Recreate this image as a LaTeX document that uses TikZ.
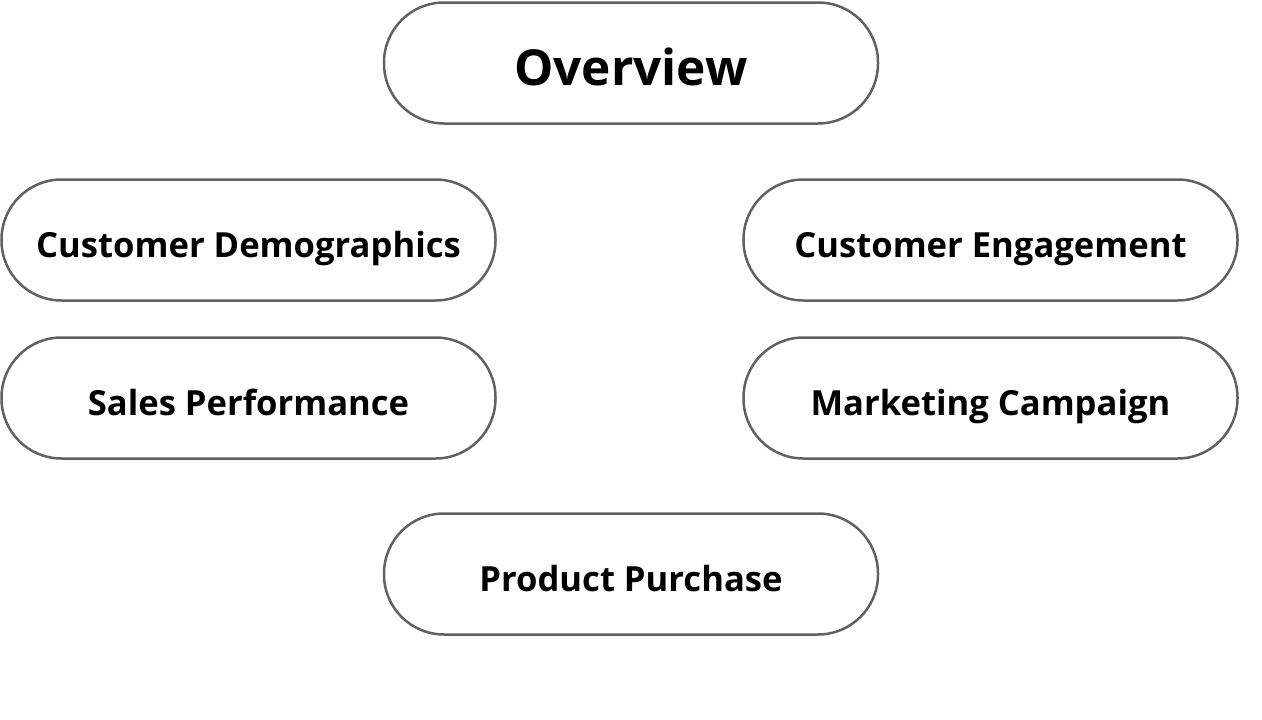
\documentclass[tikz,border=0pt]{standalone}
\usepackage{fontspec}
\setmainfont{Open Sans}
\begin{document}
\begin{tikzpicture}[x=1pt,y=-1pt,
        pill/.style={draw=black!62,line width=2.5pt,rounded corners=60pt,
            minimum width=494pt,minimum height=121pt,inner sep=0pt,
            text height=36pt,text depth=2pt,
            font=\fontsize{34.6}{40}\selectfont\bfseries},
        head/.style={pill,text height=48pt,text depth=4pt,
            font=\fontsize{49.5}{56}\selectfont\bfseries}]
    \useasboundingbox (0,0) rectangle (1262,720);
    \node[head] (overview) at (631,63) {Overview};
    \node[pill] (demo) at (248.5,240) {Customer Demographics};
    \node[pill] (engage) at (990.5,240) {Customer Engagement};
    \node[pill] (sales) at (248.5,398) {Sales Performance};
    \node[pill] (campaign) at (990.5,398) {Marketing Campaign};
    \node[pill] (purchase) at (631,574) {Product Purchase};
\end{tikzpicture}
\end{document}
